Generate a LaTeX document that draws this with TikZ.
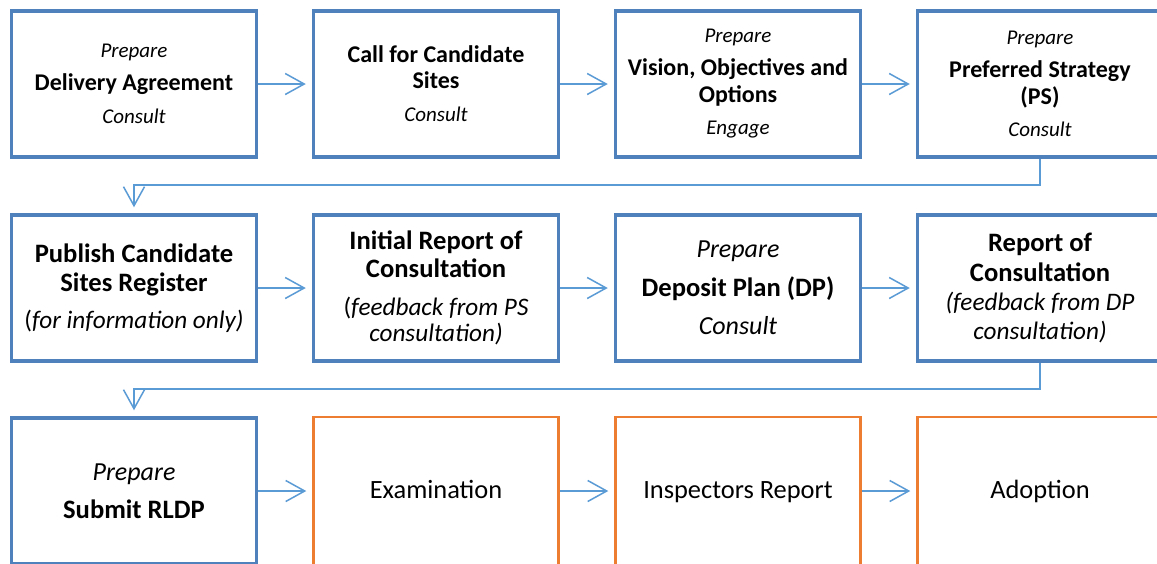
\documentclass[tikz,border=0pt]{standalone}
\usepackage{fontspec}
\setmainfont{Carlito}
\usetikzlibrary{arrows.meta}

\definecolor{boxblue}{HTML}{4F81BD}
\definecolor{flowblue}{HTML}{5B9BD5}
\definecolor{examorange}{HTML}{ED7D31}

% small italic action words (row one) and larger ones (rows two and three)
\newcommand{\actsmall}[1]{{\mdseries\itshape\fontsize{10.5}{13.5}\selectfont #1}}
\newcommand{\actlarge}[1]{{\mdseries\itshape\fontsize{12.6}{14}\selectfont #1}}

\begin{document}
\begin{tikzpicture}[x=0.5pt, y=-0.5pt,
stage/.style={draw=boxblue, line width=1.75pt, minimum width=122.5pt, minimum height=73pt, align=center, inner sep=1pt},
stagetop/.style={stage, font=\fontsize{12}{13.5}\selectfont\bfseries},
stagelow/.style={stage, font=\fontsize{13.3}{14}\selectfont\bfseries},
exam/.style={draw=examorange, line width=1.25pt, minimum width=122.5pt, minimum height=74pt, text height=9.5pt, text depth=2.5pt, font=\fontsize{13.2}{16}\selectfont},
flow/.style={draw=flowblue, line width=0.75pt, -{Straight Barb[length=9.5pt, width=10.5pt]}, shorten >=3pt}]
\clip (0,0) rectangle (1157,563);
\fill[white] (0,0) rectangle (1157,563);

% row one
\node[stagetop] (da) at (134,84) {\actsmall{Prepare}\\[3pt] Delivery Agreement\\[3pt] \actsmall{Consult}};
\node[stagetop] (cs) at (436,84) {Call for Candidate\\[-0.5pt] Sites\\[3pt] \actsmall{Consult}};
\node[stagetop] (voo) at (738,84) {\actsmall{Prepare}\\[3pt] Vision, Objectives and\\ Options\\[2.5pt] \actsmall{Engage}};
\node[stagetop] (ps) at (1040,84) {\actsmall{Prepare}\\[3pt] Preferred Strategy\\ (PS)\\[2.5pt] \actsmall{Consult}};

% row two
\node[stagelow] (pub) at (134,288) {Publish Candidate\\[0.5pt] Sites Register\\[4.5pt] \actlarge{\textup{(}for information only)}};
\node[stagelow] (irc) at (436,288) {Initial Report of\\ Consultation\\[5pt] \actlarge{\textup{(}feedback from PS}\\[-1pt] \actlarge{consultation)}};
\node[stagelow] (dp) at (738,288) {\actlarge{\fontsize{13}{14}\selectfont Prepare}\\[5.5pt] Deposit Plan (DP)\\[5pt] \actlarge{\fontsize{13}{14}\selectfont Consult}};
\node[stagelow] (rc) at (1040,288) {Report of\\[1pt] Consultation\\[0.5pt] \actlarge{(feedback from DP}\\[0.5pt] \actlarge{consultation)}};

% row three
\node[stagelow] (sub) at (134,491) {\actlarge{\fontsize{13}{14}\selectfont Prepare}\\[5pt] Submit RLDP};
\node[exam] (exam) at (436,491) {Examination};
\node[exam] (insp) at (738,491) {Inspectors Report};
\node[exam] (adopt) at (1040,491) {Adoption};

% connectors
\foreach \a/\b in {da/cs, cs/voo, voo/ps, pub/irc, irc/dp, dp/rc, sub/exam, exam/insp, insp/adopt}
  \draw[flow] (\a) -- (\b);
\coordinate (bendA) at (0,185);
\coordinate (bendB) at (0,389);
\draw[flow] (ps.south) |- (pub.north |- bendA) -- (pub.north);
\draw[flow] (rc.south) |- (sub.north |- bendB) -- (sub.north);
\end{tikzpicture}
\end{document}
